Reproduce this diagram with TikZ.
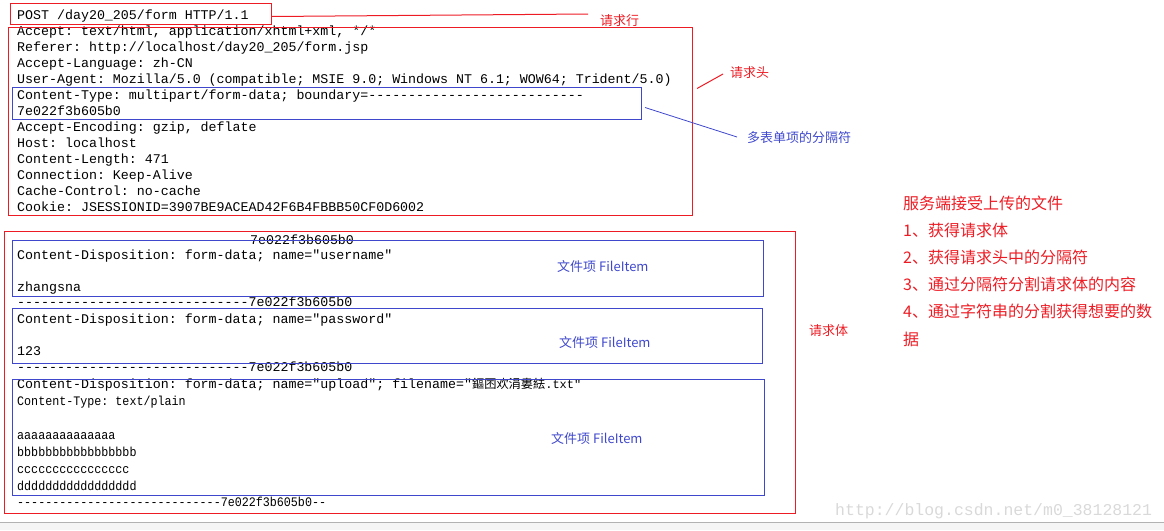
\documentclass[tikz,border=0pt]{standalone}
\usepackage{fontspec}
\setmonofont{Liberation Mono}
\newfontfamily\cjk{Noto Sans CJK SC}
\definecolor{paintred}{HTML}{ED1C24}
\definecolor{paintblue}{HTML}{3F48CC}

\begin{document}
\begin{tikzpicture}[x=1pt, y=-1pt,
    msg/.style={anchor=base west, inner sep=0pt, font=\ttfamily\fontsize{13.3}{16}\selectfont},
    narrow/.style={anchor=base west, inner sep=0pt, font=\ttfamily\fontsize{13}{17}\selectfont\addfontfeature{FakeStretch=0.9}},
    redbox/.style={draw=paintred, line width=1pt, anchor=north west, inner sep=0pt},
    bluebox/.style={draw=paintblue, line width=1pt, anchor=north west, inner sep=0pt},
    redtag/.style={anchor=west, inner sep=0pt, text=paintred, font=\cjk\fontsize{13}{13}\selectfont},
    bluetag/.style={anchor=west, inner sep=0pt, text=paintblue, font=\cjk\fontsize{13}{13}\selectfont},
    note/.style={anchor=west, inner sep=0pt, text=paintred, font=\cjk\fontsize{16}{16}\selectfont},
    redlink/.style={draw=paintred, line width=1pt},
    bluelink/.style={draw=paintblue, line width=0.8pt}]
    \useasboundingbox (0,0) rectangle (1164,530);

    % request line and headers
    \node[msg] (post) at (17,19) {POST /day20\_205/form HTTP/1.1};
    \node[msg] (h1)  at (17,35)  {Accept: text/html, application/xhtml+xml, */*};
    \node[msg] (h2)  at (17,51)  {Referer: http://localhost/day20\_205/form.jsp};
    \node[msg] (h3)  at (17,67)  {Accept-Language: zh-CN};
    \node[msg] (h4)  at (17,83)  {User-Agent: Mozilla/5.0 (compatible; MSIE 9.0; Windows NT 6.1; WOW64; Trident/5.0)};
    \node[msg] (h5)  at (17,99)  {Content-Type: multipart/form-data; boundary=---------------------------};
    \node[msg] (h6)  at (17,115) {7e022f3b605b0};
    \node[msg] (h7)  at (17,131) {Accept-Encoding: gzip, deflate};
    \node[msg] (h8)  at (17,147) {Host: localhost};
    \node[msg] (h9)  at (17,163) {Content-Length: 471};
    \node[msg] (h10) at (17,179) {Connection: Keep-Alive};
    \node[msg] (h11) at (17,195) {Cache-Control: no-cache};
    \node[msg] (h12) at (17,211) {Cookie: JSESSIONID=3907BE9ACEAD42F6B4FBBB50CF0D6002};

    % body parts
    \node[msg] (sep0) at (250,244) {7e022f3b605b0};
    \node[msg] (a1) at (17,259) {Content-Disposition: form-data; name="username"};
    \node[msg] (a2) at (17,291) {zhangsna};
    \node[msg] (sep1) at (17,306) {-----------------------------7e022f3b605b0};
    \node[msg] (b1) at (17,323) {Content-Disposition: form-data; name="password"};
    \node[msg] (b2) at (17,355) {123};
    \node[msg] (sep2) at (17,371) {-----------------------------7e022f3b605b0};
    \node[msg] (c1) at (17,388) {Content-Disposition: form-data; name="upload"; filename="{\cjk\fontsize{12.2}{16}\selectfont 鏂囨欢涓婁紶}{\fontsize{12}{16}\selectfont.txt"}};
    \node[narrow] (c2) at (17,405) {Content-Type: text/plain};
    \node[narrow] (c3) at (17,439) {aaaaaaaaaaaaaa};
    \node[narrow] (c4) at (17,456) {bbbbbbbbbbbbbbbbb};
    \node[narrow] (c5) at (17,473) {cccccccccccccccc};
    \node[narrow] (c6) at (17,490) {ddddddddddddddddd};
    \node[narrow] (sep3) at (17,506) {-----------------------------7e022f3b605b0--};

    % frames
    \node[redbox, minimum width=261pt, minimum height=21pt] (reqbox) at (10,3) {};
    \node[redbox, minimum width=684pt, minimum height=188pt] (hdrbox) at (8,27) {};
    \node[bluebox, minimum width=629pt, minimum height=32pt] (bndbox) at (12,87) {};
    \node[redbox, minimum width=791pt, minimum height=282pt] (bodybox) at (4,231) {};
    \node[bluebox, minimum width=751pt, minimum height=56pt] (itemA) at (12,240) {};
    \node[bluebox, minimum width=750pt, minimum height=55pt] (itemB) at (12,308) {};
    \node[bluebox, minimum width=752pt, minimum height=116pt] (itemC) at (12,379) {};

    % tags
    \node[redtag] (reqlbl) at (600,21) {请求行};
    \node[redtag] (hdrlbl) at (730,73) {请求头};
    \node[bluetag] (bndlbl) at (747,138) {多表单项的分隔符};
    \node[redtag] (bodylbl) at (809,331) {请求体};
    \node[bluetag] (itemAlbl) at (557,267) {文件项 FileItem};
    \node[bluetag] (itemBlbl) at (559,343) {文件项 FileItem};
    \node[bluetag] (itemClbl) at (551,439) {文件项 FileItem};

    \draw[redlink] ([yshift=-2.5pt]reqbox.east) -- ([shift={(-12pt,7pt)}]reqlbl.west);
    \draw[redlink] ([shift={(4pt,33pt)}]hdrbox.east) -- ([shift={(-7pt,-1pt)}]hdrlbl.west);
    \draw[bluelink] ([shift={(3pt,-4pt)}]bndbox.east) -- ([shift={(-10pt,1pt)}]bndlbl.west);

    % server side steps
    \foreach \t [count=\i] in {服务端接受上传的文件, 1、获得请求体, 2、获得请求头中的分隔符,
        3、通过分隔符分割请求体的内容, 4、通过字符串的分割获得想要的数, 据}
        \node[note] (step\i) at (903,{203+27.2*(\i-1)}) {\t};

    % window bottom
    \node[anchor=base west, inner sep=0pt, text=gray!30, font=\ttfamily\fontsize{16.5}{16}\selectfont]
        (mark) at (835,515) {http://blog.csdn.net/m0\_38128121};
    \fill[gray!8] (0,522) rectangle (1164,530);
    \draw[gray!60, line width=1pt] (0,522) -- (1164,522);
\end{tikzpicture}
\end{document}
